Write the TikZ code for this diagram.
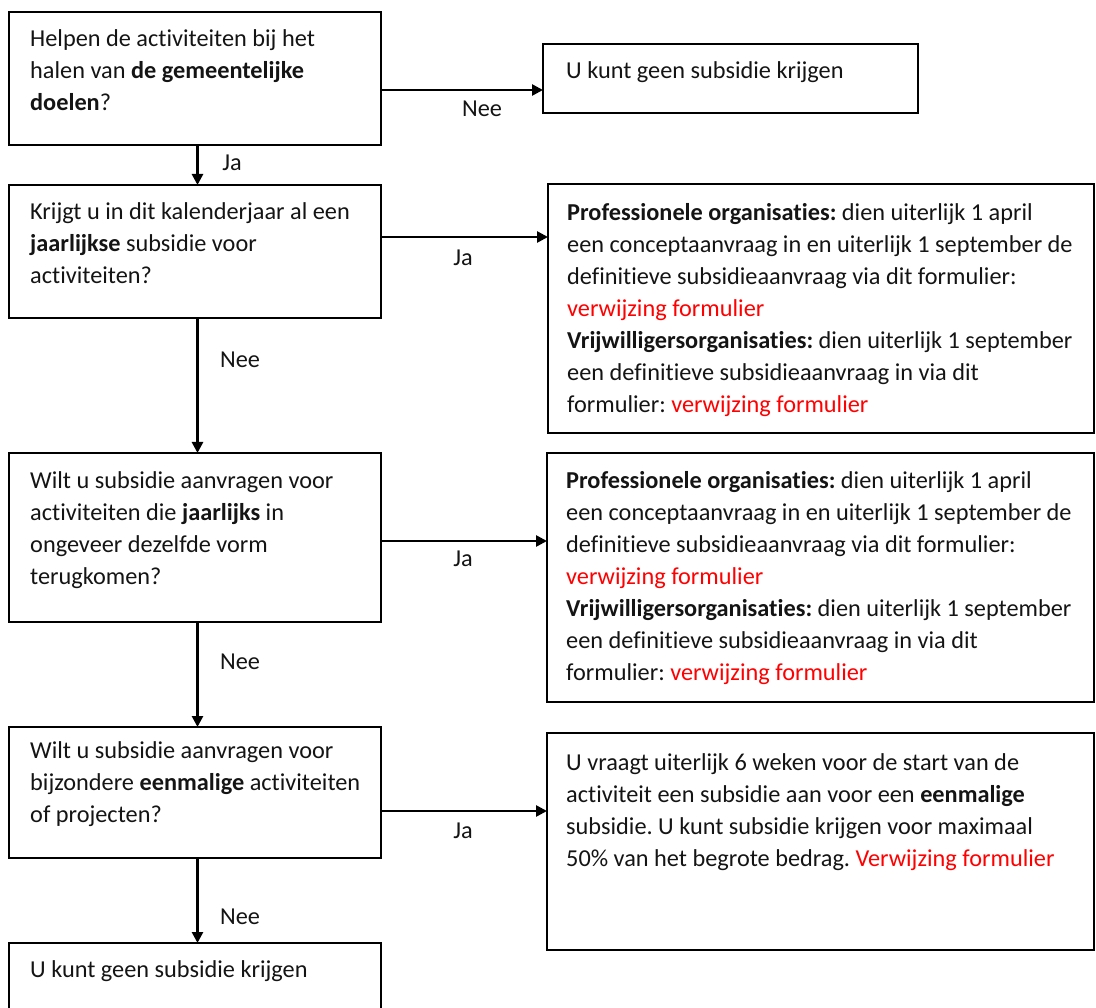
\documentclass[tikz,border=0pt]{standalone}
\usepackage{fontspec}
\setmainfont{Carlito}[Ligatures={NoCommon}]
\usetikzlibrary{arrows.meta,calc}
\definecolor{linkred}{RGB}{255,0,0}
\definecolor{ink}{RGB}{20,20,20}
\newcommand{\lnk}[1]{\textcolor{linkred}{#1}}
\newcommand{\tstrut}{\rule{0pt}{19pt}}
\frenchspacing
\tikzset{
  box/.style={draw=black, line width=2.6pt, anchor=north west, inner sep=0pt, outer sep=0pt},
  txt/.style={anchor=north west, inner sep=0pt, align=left, text=ink,
              font=\fontsize{24.3}{32}\selectfont\frenchspacing},
  lbl/.style={anchor=base, inner sep=0pt, text=ink, font=\fontsize{24.3}{32}\selectfont},
  arr/.style={line width=2.6pt, -{Triangle[length=11pt,width=11pt]}},
}
\begin{document}
\begin{tikzpicture}[x=1pt,y=-1pt]
\useasboundingbox (0,0) rectangle (1096,1008);
\clip (0,0) rectangle (1096,1008);
% boxes
\node[box, minimum width=372pt, minimum height=133pt] (b1) at (9,12) {};
\node[box, minimum width=375pt, minimum height=69pt] (r1) at (543,44) {};
\node[box, minimum width=372pt, minimum height=133pt] (b2) at (9,185) {};
\node[box, minimum width=546pt, minimum height=249pt] (r2) at (548,184) {};
\node[box, minimum width=372pt, minimum height=169pt] (b3) at (9,453) {};
\node[box, minimum width=547pt, minimum height=249pt] (r3) at (547,453) {};
\node[box, minimum width=372pt, minimum height=131pt] (b4) at (9,727) {};
\node[box, minimum width=547pt, minimum height=217pt] (r4) at (547,733) {};
\node[box, minimum width=372pt, minimum height=100pt] (b5) at (9,943) {};
% texts (top = first baseline - 19)
\node[txt] (t1) at (30,27) {\tstrut Helpen de activiteiten bij het\\ halen van \textbf{de gemeentelijke}\\ \textbf{doelen}?};
\node[txt] (tr1) at (566,59) {\tstrut U kunt geen subsidie krijgen};
\node[txt] (t2) at (30,200) {\tstrut Krijgt u in dit kalenderjaar al een\\ \textbf{jaarlijkse} subsidie voor\\ activiteiten?};
\node[txt] (tr2) at (567,201) {\tstrut\textbf{Professionele organisaties:} dien uiterlijk 1 april\\ een conceptaanvraag in en uiterlijk 1 september de\\ definitieve subsidieaanvraag via dit formulier:\\ \lnk{verwijzing formulier}\\ \textbf{Vrijwilligersorganisaties:} dien uiterlijk 1 september\\ een definitieve subsidieaanvraag in via dit\\ formulier: \lnk{verwijzing formulier}};
\node[txt] (t3) at (30,469) {\tstrut Wilt u subsidie aanvragen voor\\ activiteiten die \textbf{jaarlijks} in\\ ongeveer dezelfde vorm\\ terugkomen?};
\node[txt] (tr3) at (566,469) {\tstrut\textbf{Professionele organisaties:} dien uiterlijk 1 april\\ een conceptaanvraag in en uiterlijk 1 september de\\ definitieve subsidieaanvraag via dit formulier:\\ \lnk{verwijzing formulier}\\ \textbf{Vrijwilligersorganisaties:} dien uiterlijk 1 september\\ een definitieve subsidieaanvraag in via dit\\ formulier: \lnk{verwijzing formulier}};
\node[txt] (t4) at (30,739) {\tstrut Wilt u subsidie aanvragen voor\\ bijzondere \textbf{eenmalige} activiteiten\\ of projecten?};
\node[txt] (tr4) at (566,751) {\tstrut U vraagt uiterlijk 6 weken voor de start van de\\ activiteit een subsidie aan voor een \textbf{eenmalige}\\ subsidie. U kunt subsidie krijgen voor maximaal\\ 50\% van het begrote bedrag. \lnk{Verwijzing formulier}};
\node[txt] (t5) at (30,958) {\tstrut U kunt geen subsidie krijgen};
% connectors
\draw[arr] ($(b1.east)+(0,11.5)$) -- ($(b1.east -| r1.west)+(0,11.5)$);
\draw[arr] ($(b2.east)+(0,-14.5)$) -- ($(b2.east -| r2.west)+(0,-14.5)$);
\draw[arr] ($(b3.east)+(0,3.5)$) -- ($(b3.east -| r3.west)+(0,3.5)$);
\draw[arr] ($(b4.east)+(0,18.5)$) -- ($(b4.east -| r4.west)+(0,18.5)$);
\draw[arr] ($(b1.south)+(2.5,0)$) -- ($(b2.north)+(2.5,0)$);
\draw[arr] ($(b2.south)+(2.5,0)$) -- ($(b3.north)+(2.5,0)$);
\draw[arr] ($(b3.south)+(2.5,0)$) -- ($(b4.north)+(2.5,0)$);
\draw[arr] ($(b4.south)+(2.5,0)$) -- ($(b5.north)+(2.5,0)$);
% labels
\node[lbl] (l1) at (482,117) {Nee};
\node[lbl] (l2) at (232,171) {Ja};
\node[lbl] (l3) at (463,266) {Ja};
\node[lbl] (l4) at (240,368) {Nee};
\node[lbl] (l5) at (463,566) {Ja};
\node[lbl] (l6) at (240,669) {Nee};
\node[lbl] (l7) at (463,838) {Ja};
\node[lbl] (l8) at (240,924) {Nee};
\end{tikzpicture}
\end{document}
